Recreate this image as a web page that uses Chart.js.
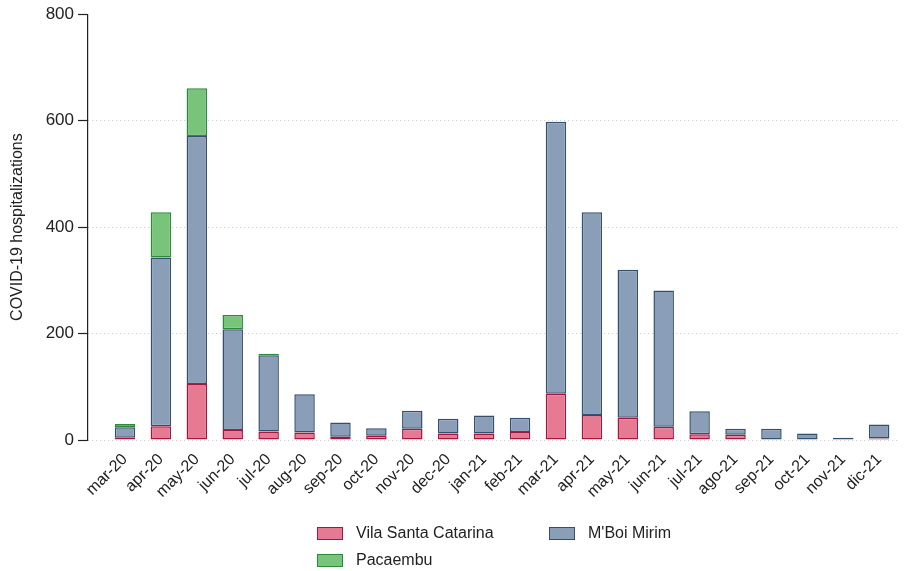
<!DOCTYPE html>
<html>
<head>
<meta charset="utf-8">
<script src="https://cdn.jsdelivr.net/npm/chart.js@4.4.1/dist/chart.umd.min.js"></script>
<style>
  html, body { margin: 0; padding: 0; background: #fff; }
  #wrap { position: relative; width: 906px; height: 571px; }
  canvas { position: absolute; left: 0; top: 0; }
  #legend { position: absolute; left: 317px; top: 524px; display: grid;
    grid-template-columns: 232px 200px; row-gap: 9px;
    font-family: "Liberation Sans", Arial, sans-serif; font-size: 16px; color: #222; }
  .item { display: flex; align-items: center; height: 18px; }
  .box { width: 26px; height: 13px; margin-right: 13px; box-sizing: border-box; border: 1.5px solid; }
</style>
</head>
<body>
<div id="wrap">
  <canvas id="c" width="906" height="571"></canvas>
  <div id="legend"></div>
</div>
<script>
const months = ["mar-20","apr-20","may-20","jun-20","jul-20","aug-20","sep-20","oct-20","nov-20","dec-20",
  "jan-21","feb-21","mar-21","apr-21","may-21","jun-21","jul-21","ago-21","sep-21","oct-21","nov-21","dic-21"];
const vilaSantaCatarina = [4, 26, 105, 19, 16, 14, 6, 8, 21, 12, 12, 15, 87, 47, 42, 25, 11, 10, 1, 0, 0, 3];
const mboiMirim = [20, 317, 466, 189, 143, 72, 27, 14, 34, 28, 34, 27, 511, 381, 278, 256, 43, 11, 20, 12, 4, 26];
const pacaembu = [6, 85, 90, 27, 3, 0, 0, 0, 0, 0, 0, 0, 0, 0, 0, 0, 0, 0, 0, 0, 0, 0];
const yTicks = [0, 200, 400, 600, 800];

const FONT = "'Liberation Sans', Arial, sans-serif";
const toPts = arr => arr.map((v, i) => ({ x: i, y: v }));

const datasets = [
  { label: "Vila Santa Catarina", data: toPts(vilaSantaCatarina), backgroundColor: "#e57a92", borderColor: "#a3163f" },
  { label: "M'Boi Mirim", data: toPts(mboiMirim), backgroundColor: "#8a9fb7", borderColor: "#34506f" },
  { label: "Pacaembu", data: toPts(pacaembu), backgroundColor: "#78c47a", borderColor: "#2d8a3c" }
].map(d => Object.assign(d, { borderWidth: 1.5, borderSkipped: false, barPercentage: 0.57, categoryPercentage: 1 }));

const chart = new Chart(document.getElementById('c'), {
  type: 'bar',
  data: { datasets },
  options: {
    responsive: false,
    animation: false,
    layout: { padding: { top: 13, right: 6, left: 0, bottom: 0 } },
    plugins: { legend: { display: false }, tooltip: { enabled: false } },
    scales: {
      x: {
        type: 'linear',
        stacked: true,
        offset: false,
        min: -1.03,
        max: 21.58,
        afterFit: s => { s.height = 131; },
        afterBuildTicks: s => { s.ticks = months.map((m, i) => ({ value: i })); },
        grid: { display: false, offset: false },
        border: { display: false },
        ticks: {
          autoSkip: false,
          maxRotation: 45, minRotation: 45,
          padding: 2,
          color: '#222',
          font: { family: FONT, size: 16 },
          callback: (v) => months[v] !== undefined ? months[v] : ''
        }
      },
      y: {
        stacked: true,
        min: 0, max: 800,
        afterFit: s => { s.width = 88; },
        afterBuildTicks: s => { s.ticks = yTicks.map(v => ({ value: v })); },
        border: { display: true, color: '#222', width: 1.2, dash: [1, 3] },
        grid: {
          color: c => (c.tick && c.tick.value === 800) ? 'rgba(0,0,0,0)' : '#c8c8c8',
          lineWidth: 1,
          tickColor: '#222',
          tickLength: 10,
          tickWidth: 1.2,
          tickBorderDash: []
        },
        ticks: { color: '#222', padding: 4, font: { family: FONT, size: 17 } },
        title: {
          display: true,
          text: 'COVID-19 hospitalizations',
          color: '#222',
          font: { family: FONT, size: 16 },
          padding: { top: 8, bottom: 0 }
        }
      }
    }
  }
});

const legend = document.getElementById('legend');
chart.data.datasets.forEach(ds => {
  const it = document.createElement('div');
  it.className = 'item';
  const b = document.createElement('span');
  b.className = 'box';
  b.style.background = ds.backgroundColor;
  b.style.borderColor = ds.borderColor;
  const t = document.createElement('span');
  t.textContent = ds.label;
  it.appendChild(b); it.appendChild(t);
  legend.appendChild(it);
});
</script>
</body>
</html>
